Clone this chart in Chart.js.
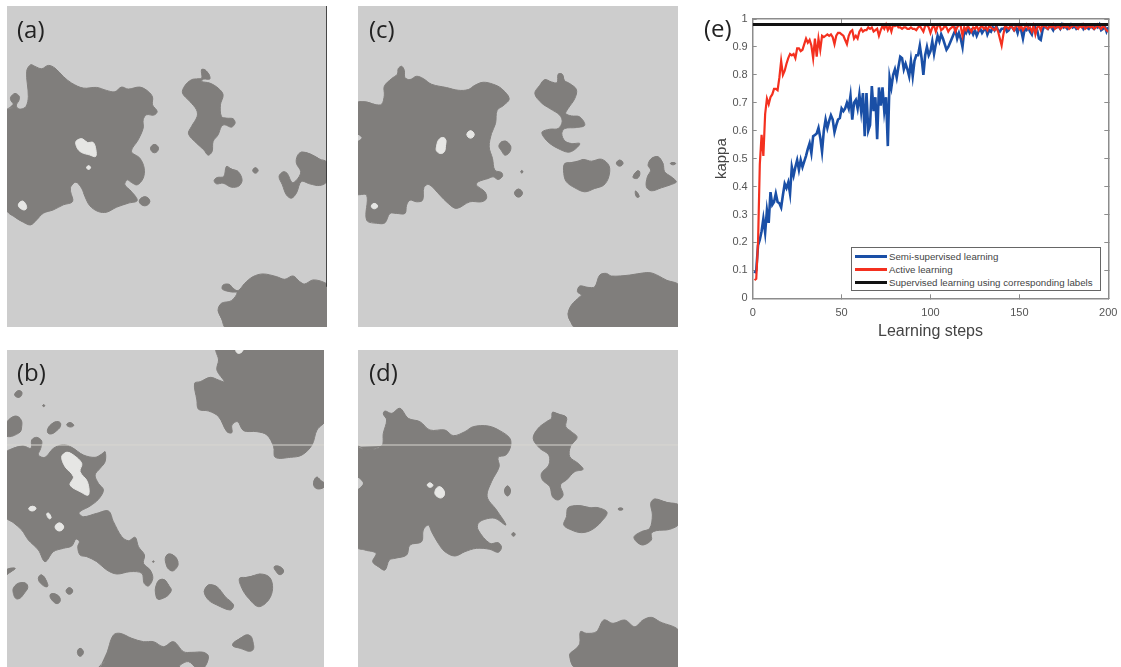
<!DOCTYPE html>
<html>
<head>
<meta charset="utf-8">
<title>kappa maps</title>
<script src="https://cdn.jsdelivr.net/npm/chart.js@4/dist/chart.umd.min.js"></script>
<style>
  body { margin: 0; background: #fff; width: 1121px; height: 667px; position: relative; overflow: hidden; font-family: "Open Sans", sans-serif; }
  canvas { position: absolute; display: block; }
  .tag { position: absolute; font-size: 24px; line-height: 30px; color: #222; }
  #legend { position: absolute; left: 851px; top: 247px; width: 248px; height: 42px; border: 1px solid #666; background: #fff; font: 9.7px "Liberation Sans", sans-serif; color: #444; }
  #legend div { position: absolute; left: 37px; height: 13px; line-height: 13px; white-space: nowrap; }
  #legend i { position: absolute; left: -34px; top: 5px; width: 32px; height: 2.5px; }
</style>
</head>
<body>
<canvas id="mapA" width="320" height="321" style="left:7px;top:6px"></canvas>
<canvas id="mapB" width="317" height="317" style="left:7px;top:350px"></canvas>
<canvas id="mapC" width="320" height="321" style="left:358px;top:6px"></canvas>
<canvas id="mapD" width="320" height="317" style="left:358px;top:350px"></canvas>
<canvas id="kappaChart" width="421" height="350" style="left:700px;top:0"></canvas>
<div class="tag" style="left:17px;top:14px">(a)</div>
<div class="tag" style="left:17px;top:357px">(b)</div>
<div class="tag" style="left:369px;top:14px">(c)</div>
<div class="tag" style="left:369px;top:357px">(d)</div>
<div class="tag" style="left:704px;top:13px">(e)</div>
<div id="legend"></div>
<script>
// learning curves, one value per step
const semiKappa = [
  .09,.10,.19,.21,.24,.285,.235,.315,.27,.38,
  .335,.345,.375,.345,.34,.325,.37,.41,.395,.415,
  .375,.47,.44,.47,.495,.46,.495,.47,.49,.51,
  .535,.555,.52,.58,.585,.59,.61,.575,.525,.6,
  .64,.61,.635,.655,.64,.595,.62,.64,.645,.68,
  .67,.68,.7,.68,.725,.64,.7,.71,.68,.73,
  .67,.735,.58,.735,.6,.62,.76,.67,.72,.57,
  .755,.69,.755,.67,.72,.545,.79,.755,.8,.82,
  .79,.83,.865,.86,.82,.84,.82,.795,.85,.795,
  .85,.87,.87,.905,.86,.8,.87,.9,.87,.885,
  .92,.875,.91,.94,.92,.945,.93,.91,.89,.9,
  .915,.93,.945,.96,.93,.95,.93,.9,.96,.95,
  .965,.95,.96,.945,.96,.94,.955,.965,.95,.96,
  .97,.945,.96,.955,.97,.96,.975,.96,.955,.965,
  .965,.97,.955,.96,.975,.97,.96,.97,.95,.975,
  .96,.93,.965,.96,.97,.955,.945,.975,.97,.96,
  .93,.925,.96,.975,.97,.965,.975,.97,.96,.975,
  .97,.975,.965,.98,.97,.975,.965,.97,.98,.97,
  .975,.965,.97,.975,.98,.965,.975,.97,.965,.975,
  .97,.965,.975,.97,.98,.96,.965,.975,.955,.97
];
const activeKappa = [
  .065,.07,.2,.48,.585,.51,.66,.715,.695,.72,
  .73,.75,.75,.745,.79,.85,.8,.815,.84,.86,
  .875,.87,.875,.86,.895,.895,.885,.89,.91,.93,
  .915,.925,.905,.86,.93,.865,.93,.89,.94,.935,
  .94,.945,.94,.945,.935,.91,.94,.95,.95,.945,
  .94,.925,.91,.94,.955,.96,.93,.94,.93,.955,
  .965,.955,.96,.96,.97,.965,.97,.955,.96,.965,
  .94,.96,.975,.965,.98,.96,.975,.955,.98,.975,
  .98,.97,.97,.965,.97,.97,.965,.965,.97,.965,
  .965,.96,.97,.975,.965,.955,.975,.98,.97,.95,
  .97,.975,.955,.975,.98,.96,.965,.975,.97,.955,
  .965,.97,.975,.955,.97,.98,.975,.94,.97,.96,
  .975,.965,.955,.97,.965,.975,.96,.97,.975,.965,
  .97,.96,.975,.97,.965,.96,.97,.955,.93,.905,
  .945,.975,.97,.965,.975,.97,.96,.975,.98,.965,
  .975,.96,.97,.98,.965,.97,.955,.975,.945,.97,
  .975,.96,.98,.975,.97,.965,.975,.97,.98,.965,
  .97,.975,.965,.97,.98,.97,.975,.965,.97,.975,
  .98,.97,.965,.975,.97,.98,.965,.97,.975,.97,
  .975,.965,.97,.98,.97,.965,.975,.97,.96,.955
];
const supervisedSteps = [0, 200];
const supervisedKappa = [0.98, 0.98];
const seriesNames = ['Semi-supervised learning', 'Active learning', 'Supervised learning using corresponding labels'];
const yTickValues = [0, 0.1, 0.2, 0.3, 0.4, 0.5, 0.6, 0.7, 0.8, 0.9, 1];
const xTickValues = [0, 50, 100, 150, 200];

// map outlines, in image coordinates of the panel
const mapALand = [
  [[21,330],[42,322],[40,312],[33,303],[32,292],[45,281],[58,290],[56,304],[50,313],[51,323],[62,328],[78,320],[85,290],[80,215],[92,195],[105,200],[125,207],[145,197],[165,205],[190,230],[215,250],[250,265],[290,263],[320,272],[345,276],[365,262],[385,268],[420,262],[445,275],[458,292],[458,315],[472,335],[462,346],[440,345],[430,360],[430,385],[415,420],[395,455],[420,475],[433,505],[430,535],[412,555],[395,548],[382,540],[375,555],[395,575],[412,602],[385,610],[350,622],[320,637],[295,635],[270,618],[255,590],[245,565],[228,547],[213,560],[212,575],[218,605],[190,615],[160,630],[130,640],[110,660],[92,675],[70,667],[45,652],[21,630]],
  [[452,446],[464,434],[476,446],[464,459]],
  [[418,604],[435,591],[450,604],[435,618]],
  [[605,210],[615,210],[628,225],[630,238],[612,238],[605,245],[630,250],[655,265],[670,285],[662,315],[665,350],[680,355],[700,357],[706,370],[695,382],[675,375],[665,380],[655,405],[640,425],[637,455],[625,466],[612,450],[590,430],[566,402],[575,380],[592,350],[590,330],[570,305],[548,280],[555,258],[575,240],[595,237],[606,235]],
  [[680,500],[695,508],[715,515],[727,540],[718,558],[695,562],[670,550],[650,552],[643,542],[652,533],[672,530]],
  [[759,512],[767,504],[775,512],[767,520]],
  [[905,457],[930,462],[960,478],[981,487],[981,545],[960,557],[930,552],[905,545],[890,580],[875,595],[860,585],[848,555],[838,530],[850,516],[862,520],[878,548],[895,535],[903,515],[890,490],[893,468]],
  [[681,985],[665,955],[655,930],[665,910],[695,902],[712,878],[695,876],[668,868],[670,855],[688,853],[700,865],[715,872],[735,850],[760,830],[790,822],[830,830],[855,838],[880,828],[900,845],[915,852],[940,840],[975,848],[985,860],[985,985]]
];
const mapALakes = [
  [[228,425],[245,417],[262,428],[280,428],[288,450],[287,470],[268,465],[245,458],[232,445]],
  [[260,503],[266,498],[272,503],[266,509]],
  [[55,615],[67,604],[78,615],[78,628],[65,628]]
];
const mapAEdge = [[982,19],[982,860]];

const mapBLand = [
  [[17,340],[40,325],[70,318],[93,325],[95,300],[110,292],[125,303],[122,325],[115,345],[135,352],[160,325],[190,314],[215,322],[250,345],[285,352],[305,342],[315,335],[315,365],[300,385],[285,405],[295,430],[310,450],[295,478],[270,498],[237,518],[250,530],[290,520],[325,513],[340,545],[365,590],[385,602],[405,592],[415,620],[433,645],[430,670],[450,690],[458,715],[445,738],[432,730],[425,700],[390,695],[350,702],[320,690],[290,665],[260,650],[240,645],[233,620],[238,605],[228,597],[215,618],[190,625],[160,635],[135,665],[115,630],[85,600],[65,570],[40,548],[17,530]],
  [[650,26],[975,26],[975,240],[950,270],[935,315],[905,345],[870,352],[825,352],[820,320],[800,285],[770,275],[730,272],[712,245],[695,255],[695,278],[680,275],[655,230],[625,213],[595,208],[590,180],[583,130],[600,125],[630,112],[655,120],[672,125],[650,90],[655,60]],
  [[44,165],[55,152],[66,158],[58,172]],
  [[128,197],[131,194],[134,197],[131,200]],
  [[17,255],[40,230],[60,235],[65,260],[55,280],[17,287]],
  [[142,272],[155,252],[175,245],[182,255],[170,272],[150,282]],
  [[200,254],[210,248],[221,256],[210,261]],
  [[940,435],[948,412],[960,420],[975,435],[955,447]],
  [[500,645],[518,645],[533,665],[528,685],[512,692],[497,670]],
  [[457,665],[460,663],[462,665],[460,667]],
  [[822,680],[838,680],[850,693],[840,704],[828,695]],
  [[718,715],[745,712],[780,702],[808,712],[817,745],[805,780],[775,800],[745,775],[725,745]],
  [[612,755],[625,735],[650,740],[675,770],[700,795],[690,810],[650,795],[625,780]],
  [[470,730],[488,718],[505,735],[512,755],[480,778],[468,770]],
  [[17,690],[45,685],[30,697],[17,705]],
  [[115,715],[125,705],[140,725],[142,740],[125,733]],
  [[45,737],[70,728],[83,738],[75,757],[53,777],[40,760]],
  [[198,753],[208,743],[218,753],[208,763]],
  [[150,765],[165,762],[180,775],[175,790],[160,785]],
  [[232,937],[240,925],[250,937],[240,949]],
  [[697,915],[720,895],[745,885],[758,905],[755,932],[720,925]],
  [[298,985],[320,955],[325,925],[340,885],[360,880],[395,895],[430,905],[460,905],[490,920],[520,905],[550,935],[575,937],[610,937],[625,950],[610,985],[590,985],[565,965],[540,975],[535,985]]
];
const mapBLakes = [
  [[185,350],[200,337],[220,345],[245,370],[240,395],[262,425],[265,465],[240,455],[210,435],[220,410],[195,380]],
  [[86,506],[97,499],[108,505],[97,513]],
  [[140,522],[146,520],[153,533],[147,536]],
  [[165,561],[178,549],[191,561],[178,573]],
  [[708,26],[728,26],[722,38],[710,38]]
];
const mapBSeam = [[21,315],[971,315]];

const mapCLand = [
  [[20,310],[45,305],[75,313],[95,312],[103,285],[103,258],[125,235],[142,222],[145,205],[155,198],[163,210],[165,232],[180,238],[200,228],[220,235],[245,252],[290,262],[325,270],[355,268],[375,255],[400,246],[430,252],[455,265],[478,295],[462,315],[442,330],[437,370],[425,400],[418,440],[428,475],[435,510],[455,517],[458,528],[445,538],[430,530],[415,535],[385,545],[380,555],[405,575],[410,595],[395,605],[360,605],[320,625],[295,610],[270,585],[237,553],[222,562],[218,600],[200,605],[180,600],[170,615],[165,640],[140,640],[120,640],[105,668],[85,670],[50,660],[50,585],[20,580]],
  [[455,425],[470,424],[483,440],[478,458],[465,465],[455,452],[447,438]],
  [[513,515],[516,511],[519,515],[516,519]],
  [[494,579],[506,567],[518,579],[506,591]],
  [[625,222],[637,222],[643,240],[660,250],[680,268],[675,295],[655,325],[648,340],[665,347],[690,350],[705,375],[680,382],[645,385],[636,400],[645,422],[665,430],[690,430],[675,448],[655,456],[625,445],[600,430],[580,408],[577,395],[600,387],[625,385],[637,365],[630,345],[600,325],[575,308],[555,280],[570,255],[585,238],[605,245],[622,247]],
  [[645,490],[675,488],[700,478],[725,483],[755,477],[778,497],[777,530],[762,555],[735,565],[705,575],[675,563],[650,545],[642,520]],
  [[800,489],[810,480],[820,489],[810,498]],
  [[850,530],[862,513],[870,515],[866,532],[855,535]],
  [[857,573],[863,578],[868,590],[860,590]],
  [[962,490],[970,487],[978,490],[970,494]],
  [[905,475],[925,470],[940,490],[945,515],[965,530],[980,545],[965,553],[935,563],[905,572],[890,560],[893,530],[903,510],[895,495]],
  [[680,985],[660,960],[655,940],[665,915],[690,890],[695,885],[683,875],[690,858],[715,862],[735,860],[750,825],[770,820],[785,828],[840,825],[885,818],[910,820],[950,840],[989,858],[989,985]]
];
const mapCLakes = [
  [[270,415],[285,415],[287,435],[280,458],[262,455],[260,438]],
  [[351,403],[362,392],[373,403],[362,414]],
  [[64,618],[73,610],[83,618],[73,626]]
];
const mapCCoves = [[[20,405],[33,413],[20,420]]];

const mapDLand = [
  [[20,320],[50,330],[95,318],[100,280],[110,240],[100,222],[105,213],[125,220],[150,205],[175,235],[210,245],[240,270],[285,270],[310,287],[345,275],[370,260],[415,258],[450,272],[480,295],[482,320],[468,345],[445,352],[448,380],[425,425],[412,470],[440,510],[468,555],[435,535],[405,538],[385,550],[385,570],[420,610],[445,608],[455,622],[445,637],[420,628],[380,625],[345,635],[315,648],[285,635],[265,610],[245,575],[235,555],[220,570],[215,605],[180,615],[170,645],[135,655],[118,660],[105,690],[85,680],[68,665],[78,640],[45,630],[20,620]],
  [[464,453],[473,438],[482,453],[473,468]],
  [[486,583],[491,578],[496,583],[491,589]],
  [[608,217],[625,222],[650,232],[648,260],[665,275],[682,292],[662,320],[660,350],[685,370],[700,388],[675,395],[650,420],[632,435],[640,465],[625,480],[608,470],[600,440],[578,420],[575,400],[597,375],[597,345],[570,325],[550,295],[565,265],[590,245],[605,235]],
  [[655,503],[685,497],[720,503],[745,503],[772,517],[755,545],[725,570],[695,578],[665,570],[642,555],[650,530]],
  [[805,507],[812,504],[820,507],[812,511]],
  [[915,477],[950,487],[989,497],[989,550],[960,568],[920,572],[905,580],[905,600],[880,615],[860,605],[853,590],[875,575],[900,565],[908,525],[903,490]],
  [[680,985],[660,945],[680,925],[690,910],[692,875],[710,880],[740,875],[762,840],[790,850],[825,840],[855,860],[880,840],[905,832],[930,845],[989,875],[989,985]]
];
const mapDLakes = [
  [[268,440],[283,455],[278,472],[262,470],[255,455]],
  [[232,435],[240,429],[249,436],[240,442]]
];
const mapDCoves = [[[20,415],[37,430],[20,445]]];
const mapDSeam = [[24,315],[985,315]];

const landColor = '#807e7c';
const groundColor = '#cdcdcd';
const lakeColor = '#e6e6e4';

// repeat the first points so the spline closes round instead of with a corner
function shape(points, color) {
  return {
    data: [...points, points[0], points[1], points[2]],
    showLine: true, fill: 'shape', backgroundColor: color, borderColor: color, borderWidth: 1, pointRadius: 0,
    tension: points.length <= 6 ? 0.5 : 0.35
  };
}
function rule(points, color, width) {
  return { data: points, showLine: true, fill: false, borderColor: color, borderWidth: width, pointRadius: 0, clip: false };
}

// first dataset ends up on top
function drawMap(id, xMin, xMax, yMin, yMax, land, lakes, coves, rules) {
  const datasets = [
    ...rules,
    ...lakes.map(p => shape(p, lakeColor)),
    ...coves.map(p => shape(p, groundColor)),
    ...land.map(p => shape(p, landColor))
  ];
  const el = document.getElementById(id);
  el.style.backgroundColor = groundColor;
  new Chart(el, {
    type: 'scatter',
    data: { datasets: datasets },
    options: {
      responsive: false,
      animation: false,
      events: [],
      layout: { padding: 0 },
      plugins: { legend: { display: false }, tooltip: { enabled: false } },
      scales: {
        x: { type: 'linear', display: false, min: xMin, max: xMax },
        y: { type: 'linear', display: false, min: yMin, max: yMax, reverse: true }
      }
    }
  });
}

drawMap('mapA', 21, 982, 19, 981, mapALand, mapALakes, [], [rule(mapAEdge, '#333', 1)]);
drawMap('mapB', 21, 971, 30, 981, mapBLand, mapBLakes, [], [rule(mapBSeam, '#d8d6d0', 1)]);
drawMap('mapC', 24, 985, 17, 981, mapCLand, mapCLakes, mapCCoves, []);
drawMap('mapD', 24, 985, 30, 981, mapDLand, mapDLakes, mapDCoves, [rule(mapDSeam, '#d8d6d0', 1)]);

const semiColor = '#1a4fa6';
const activeColor = '#f4301f';
const supervisedColor = '#111111';
const axisColor = '#8c8c8c';
const tickFont = { family: 'Liberation Sans', size: 11 };
const titleFont = { family: 'Liberation Sans', size: 15 };

function boxAxis(position, ticks) {
  return {
    type: 'linear',
    position: position,
    min: 0,
    max: ticks[ticks.length - 1],
    afterBuildTicks: s => { s.ticks = ticks.map(v => ({ value: v })); },
    ticks: { display: false },
    border: { color: axisColor, width: 1.5 },
    grid: { drawOnChartArea: false, color: axisColor, tickLength: -4 },
    afterFit: s => {
      if (position === 'top') s.height = 0; else s.width = 0;
      s.paddingLeft = s.paddingRight = s.paddingTop = s.paddingBottom = 0;
    }
  };
}

new Chart(document.getElementById('kappaChart'), {
  type: 'line',
  data: {
    labels: semiKappa.map((v, i) => i + 1),
    datasets: [
      { label: seriesNames[2], data: supervisedSteps.map((s, i) => ({ x: s, y: supervisedKappa[i] })), borderColor: supervisedColor, borderWidth: 3, pointRadius: 0, order: 0 },
      { label: seriesNames[1], data: activeKappa, borderColor: activeColor, borderWidth: 2.2, pointRadius: 0, order: 1 },
      { label: seriesNames[0], data: semiKappa, borderColor: semiColor, borderWidth: 2.6, pointRadius: 0, order: 2 }
    ]
  },
  options: {
    responsive: false,
    animation: false,
    events: [],
    layout: { padding: { left: 13, top: 19, right: 12.7, bottom: 9 } },
    plugins: { legend: { display: false }, tooltip: { enabled: false } },
    scales: {
      x: {
        type: 'linear', position: 'bottom', min: 0, max: 200,
        afterBuildTicks: s => { s.ticks = xTickValues.map(v => ({ value: v })); },
        ticks: { color: '#555', font: tickFont, padding: 12, maxRotation: 0 },
        border: { color: axisColor, width: 1.5 },
        grid: { drawOnChartArea: false, color: axisColor, tickLength: -4 },
        title: { display: true, text: 'Learning steps', color: '#444', font: { family: 'Liberation Sans', size: 16 }, padding: 0 },
        afterFit: s => { s.height = 42.7; s.paddingLeft = s.paddingRight = 0; }
      },
      y: {
        type: 'linear', position: 'left', min: 0, max: 1,
        afterBuildTicks: s => { s.ticks = yTickValues.map(v => ({ value: v })); },
        ticks: { color: '#555', font: tickFont, padding: 9, callback: v => String(v) },
        border: { color: axisColor, width: 1.5 },
        grid: { drawOnChartArea: false, color: axisColor, tickLength: -4 },
        title: { display: true, text: 'kappa', color: '#444', font: titleFont, padding: 0 },
        afterFit: s => { s.width = 39.7; s.paddingTop = s.paddingBottom = 0; }
      },
      xTop: boxAxis('top', xTickValues),
      yRight: boxAxis('right', yTickValues)
    }
  }
});

// legend sits inside the plot, like the original
const legendBox = document.getElementById('legend');
[semiColor, activeColor, supervisedColor].forEach((c, i) => {
  const row = document.createElement('div');
  row.style.top = (2 + i * 13) + 'px';
  row.textContent = seriesNames[i];
  const swatch = document.createElement('i');
  swatch.style.background = c;
  row.appendChild(swatch);
  legendBox.appendChild(row);
});
</script>
</body>
</html>
